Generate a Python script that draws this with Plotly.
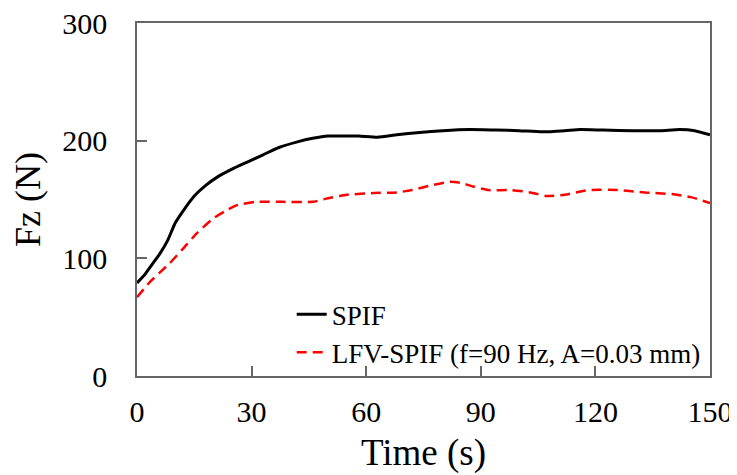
import plotly.graph_objects as go

t_spif = [0, 2, 4, 6, 8, 10, 12, 15, 18, 21, 25, 29, 33, 37, 42, 46, 50, 53, 58, 63,
          68, 74, 80, 87, 94, 100, 106, 112, 116, 122, 130, 137, 142, 146, 150]
fz_spif = [79, 86, 95, 104, 115, 130, 140, 153, 162, 169, 176, 182, 188, 194, 199, 202,
           204, 204, 204, 203, 205, 207, 208.5, 209.5, 209, 208.5, 207.5, 208.5, 209.5,
           209, 208.5, 208.5, 209.5, 208.5, 205]

t_lfv = [0, 3.4, 6, 8.6, 12, 15.7, 20, 23, 26, 31, 38, 46, 50, 55, 62, 68, 72, 77, 82,
         85, 88, 92, 98, 103, 107, 112, 118, 126, 133, 140, 145, 150]
fz_lfv = [67, 80, 88, 96, 108, 121.5, 134, 140, 145, 148, 148, 148, 151, 154, 155.5, 156,
          158, 162, 165, 164, 161, 158, 158, 156, 153, 154, 158, 158, 156, 154.6, 152, 147]

names = ["SPIF", "LFV-SPIF (f=90 Hz, A=0.03 mm)"]
x_ticks = [0, 30, 60, 90, 120, 150]
y_ticks = [0, 100, 200, 300]

FONT = "Liberation Serif"

fig = go.Figure()
fig.add_trace(go.Scatter(x=t_spif, y=fz_spif, mode="lines", name=names[0],
                         line=dict(color="black", width=3, shape="spline", smoothing=0.5)))
fig.add_trace(go.Scatter(x=t_lfv, y=fz_lfv, mode="lines", name=names[1],
                         line=dict(color="#FF0000", width=2.5, dash="10px,6px",
                                   shape="spline", smoothing=0.5)))

axis_common = dict(showline=True, linecolor="#666666", linewidth=1.5, mirror=True,
                   ticks="inside", ticklen=10, tickwidth=1.5, tickcolor="#666666",
                   showgrid=False, zeroline=False, automargin=False,
                   ticklabeloverflow="allow",
                   tickfont=dict(family=FONT, size=30, color="black"))

fig.update_xaxes(range=[0, 150], tickvals=x_ticks, ticktext=[str(v) for v in x_ticks],
                 ticklabelstandoff=8,
                 title=dict(text="Time (s)", font=dict(family=FONT, size=37, color="black"),
                            standoff=12),
                 **axis_common)
fig.update_yaxes(range=[0, 300], tickvals=y_ticks, ticktext=[str(v) for v in y_ticks],
                 ticklabelstandoff=22,
                 title=dict(text="Fz (N)", font=dict(family=FONT, size=36, color="black"),
                            standoff=12),
                 **axis_common)

# page body has an 8px default margin; compensate so the plot area lands where the reference has it
fig.update_layout(
    width=729, height=467,
    margin=dict(l=129, r=27, t=15, b=99),
    plot_bgcolor="white", paper_bgcolor="white",
    font=dict(family=FONT, color="black"),
    legend=dict(x=0.27, y=0.243, xanchor="left", yanchor="top",
                bgcolor="rgba(0,0,0,0)", font=dict(family=FONT, size=27, color="black"),
                tracegroupgap=0, itemwidth=30),
    showlegend=True,
)

fig.write_html("out.html")
